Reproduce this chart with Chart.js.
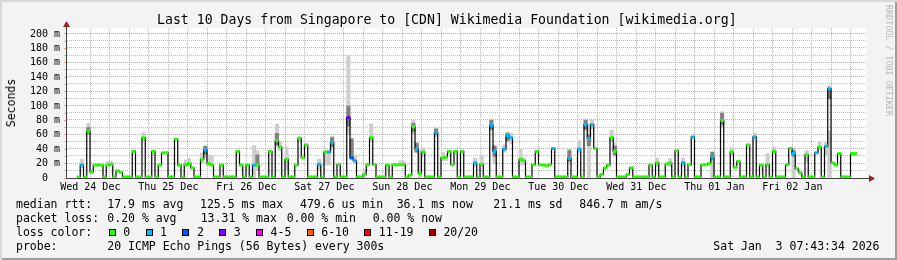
<!DOCTYPE html>
<html>
<head>
<meta charset="utf-8">
<script src="https://cdn.jsdelivr.net/npm/chart.js@4"></script>
<style>
  html, body { margin: 0; padding: 0; background: #fff; }
  #frame { position: relative; width: 897px; height: 260px; background: #f3f3f3; overflow: hidden;
           font-family: "DejaVu Sans Mono", monospace; color: #000; }
  #frame canvas { position: absolute; left: 0; top: 0; }
  #edge { position: absolute; left: 0; top: 0; width: 897px; height: 260px; pointer-events: none;
          box-shadow: inset 2px 2px 0 #d8d8d8, inset -2px -2px 0 #9c9c9c; }
  .t { position: absolute; white-space: pre; font-size: 11.5px; line-height: 14px; }
  #title { position: absolute; left: 157px; top: 11.5px; font-size: 13.2px; line-height: 16px; white-space: pre; }
  #ylab { position: absolute; left: 11px; top: 103px; font-size: 11.5px; line-height: 14px; white-space: pre;
          transform: translate(-50%, -50%) rotate(-90deg); }
  #brand { position: absolute; left: 884px; top: 5px; font-size: 8.4px; color: #b8b8b8; writing-mode: vertical-rl; white-space: pre; }
  #losses { position: absolute; left: 108.7px; top: 224.7px; white-space: pre; font-size: 11.5px; line-height: 14px; }
  #losses span.sw { display: inline-block; width: 5px; height: 5px; border: 1px solid #000; vertical-align: 0px; margin-right: 7.6px; }
  #losses span.lb { margin-right: 15.3px; }
</style>
</head>
<body>
<div id="frame">
  <canvas id="c" width="897" height="260"></canvas>
  <div id="title">Last 10 Days from Singapore to [CDN] Wikimedia Foundation [wikimedia.org]</div>
  <div id="ylab">Seconds</div>
  <div id="brand">RRDTOOL / TOBI OETIKER</div>

  <div class="t" style="left:16px;top:196.7px">median rtt:</div>
  <div class="t" style="left:107.3px;top:196.7px">17.9 ms avg</div>
  <div class="t" style="left:200px;top:196.7px">125.5 ms max</div>
  <div class="t" style="left:300px;top:196.7px">479.6 us min</div>
  <div class="t" style="left:396.7px;top:196.7px">36.1 ms now</div>
  <div class="t" style="left:493.3px;top:196.7px">21.1 ms sd</div>
  <div class="t" style="left:579.3px;top:196.7px">846.7 m am/s</div>

  <div class="t" style="left:16px;top:210.7px">packet loss:</div>
  <div class="t" style="left:107.3px;top:210.7px">0.20 % avg</div>
  <div class="t" style="left:200.7px;top:210.7px">13.31 % max</div>
  <div class="t" style="left:286.7px;top:210.7px">0.00 % min</div>
  <div class="t" style="left:372.7px;top:210.7px">0.00 % now</div>

  <div class="t" style="left:16px;top:224.7px">loss color:</div>
  <div id="losses"></div>

  <div class="t" style="left:16px;top:239px">probe:</div>
  <div class="t" style="left:107.3px;top:239px">20 ICMP Echo Pings (56 Bytes) every 300s</div>
  <div class="t" style="left:713.3px;top:239px">Sat Jan  3 07:43:34 2026</div>
  <div id="edge"></div>
</div>
<script>
// hours since Wed 24 Dec 00:00 at the left edge of the graph
const startHour = 7.9;

// hourly median rtt, ms
const median = [
  1.5, 18, 1.5, 65, 8, 18, 18, 18, 1.5, 18, 19, 1.5, 10, 8, 1.5, 1.5, 1.5, 37, 1.5, 1.5,
  56, 1.5, 1.5, 37, 1.5, 18, 35, 35, 1.5, 1.5, 54, 18, 1.5, 18.5, 20, 14, 1.5, 1.5, 26, 39,
  20, 18, 1.5, 1.5, 18, 1.5, 1.5, 1.5, 1.5, 37, 18, 1.5, 18, 1.5, 18, 18, 1.5, 1.5, 1.5, 37,
  1.5, 52, 43, 1.5, 26, 1.5, 1.5, 18, 55, 28, 46, 1.5, 1.5, 1.5, 19, 1.5, 36, 36, 49, 1.5,
  19, 1.5, 1.5, 84, 28, 24, 1.5, 1.5, 5, 18.5, 56, 18.5, 1.5, 1.5, 1.5, 18, 1.5, 18.5, 18.5, 18.5,
  18.5, 1.5, 4, 71, 40, 6.5, 36, 1.5, 1.5, 1.5, 63, 1.5, 28, 29, 37, 18.5, 37, 1.5, 37, 1.5,
  1.5, 1.5, 21, 1.5, 19, 1.5, 1.5, 73, 37, 1.5, 1.5, 40, 59, 56, 1.5, 1.5, 26, 24, 1.5, 1.5,
  18.5, 37, 18.5, 18, 17, 18.5, 41, 1.5, 1.5, 1.5, 1.5, 27, 1.5, 1.5, 40, 1.5, 74, 55, 74, 41,
  1.5, 5, 14, 18, 56, 37, 1.5, 1.5, 1.5, 5, 14, 1.5, 1.5, 1.5, 1.5, 1.5, 18, 1.5, 21, 1.5,
  1.5, 19.5, 21, 1.5, 38, 1.5, 21, 1.5, 18.5, 57, 1.5, 1.5, 18, 18.5, 20, 29, 1.5, 1.5, 80, 1.5,
  1.5, 36, 15, 23, 1.5, 1.5, 46, 1.5, 57, 1.5, 18, 1.5, 18.5, 1.5, 37, 1.5, 1.5, 1.5, 18.5, 41,
  34, 13, 7.4, 1.5, 32, 1.5, 1.5, 35, 43, 1.5, 44, 124, 21, 18, 34, 1.5, 1.5, 1.5, 34, 34
];

// hours with packet loss (1, 2 and 3 of 20)
const loss1 = [1, 39, 54, 74, 77, 78, 85, 104, 110, 122, 127, 128, 131, 132, 133, 146, 151, 154,
  156, 157, 158, 186, 189, 195, 208, 220, 227, 230, 231];
const loss2 = [84];
const loss3 = [83];

// smoke: [hour, low ms, high ms]
const smokeLight = [
  [1, 14, 26], [3, 60, 76], [9, 17, 23], [10, 17, 23], [20, 52, 63], [33, 16, 25], [34, 16, 27],
  [38, 20, 35], [39, 28, 45], [40, 17, 32], [41, 17, 30], [54, 0, 45], [55, 10, 38], [61, 44, 75],
  [62, 38, 50], [64, 12, 43], [68, 50, 58], [74, 12, 26], [76, 18, 38], [77, 18, 38], [78, 40, 58],
  [83, 60, 170], [84, 25, 56], [85, 20, 32], [88, 0, 12], [90, 50, 75], [99, 17, 24], [100, 17, 24],
  [103, 62, 80], [104, 35, 50], [105, 0, 38], [106, 30, 42], [110, 57, 70], [112, 24, 36],
  [113, 24, 32], [122, 16, 28], [124, 16, 32], [127, 66, 82], [128, 20, 46], [131, 36, 46],
  [132, 50, 64], [133, 48, 62], [136, 18, 40], [137, 18, 28], [151, 22, 40], [154, 35, 52],
  [156, 66, 82], [157, 0, 75], [158, 68, 80], [164, 50, 66], [165, 30, 48], [178, 16, 28],
  [182, 16, 27], [186, 16, 28], [195, 0, 36], [198, 70, 92], [201, 30, 42], [208, 54, 62],
  [212, 16, 34], [214, 34, 43], [220, 0, 42], [224, 22, 38], [228, 40, 50], [230, 32, 50],
  [231, 0, 65], [231, 115, 128]
];
const smokeDark = [
  [3, 62, 70], [39, 33, 44], [55, 18, 32], [61, 46, 62], [78, 44, 56], [83, 72, 100], [84, 30, 54],
  [103, 65, 76], [104, 36, 48], [110, 60, 68], [127, 68, 80], [128, 30, 44], [132, 52, 62],
  [151, 24, 38], [156, 68, 80], [157, 45, 60], [165, 32, 44], [195, 26, 36], [198, 74, 90],
  [220, 30, 38], [231, 110, 124]
];

const dayLabels = ['Wed 24 Dec', 'Thu 25 Dec', 'Fri 26 Dec', 'Sat 27 Dec', 'Sun 28 Dec',
  'Mon 29 Dec', 'Tue 30 Dec', 'Wed 31 Dec', 'Thu 01 Jan', 'Fri 02 Jan'];
const lossLabels = ['0', '1', '2', '3', '4-5', '6-10', '11-19', '20/20'];
const lossColors = ['#26ff00', '#00b8ff', '#0059ff', '#7e00ff', '#ff00ff', '#ff5e00', '#ff0000', '#a00000'];

// loss legend
const lossBox = document.getElementById('losses');
lossLabels.forEach((l, i) => {
  lossBox.insertAdjacentHTML('beforeend',
    '<span class="sw" style="background:' + lossColors[i] + '"></span><span class="lb">' + l + '</span>');
});

const pointColors = median.map((v, i) =>
  loss3.includes(i) ? lossColors[3] : loss2.includes(i) ? lossColors[2] : loss1.includes(i) ? lossColors[1] : lossColors[0]);

const lineData = median.map((v, i) => ({x: startHour + i, y: v}));
lineData.push({x: startHour + median.length, y: median[median.length - 1]});

const xGrid = [];
for (let h = 12; h < startHour + 240; h += 6) xGrid.push(h);
const yGrid = [];
for (let v = 10; v <= 200; v += 10) yGrid.push(v);

const red = '#ff9696', grey = '#bebebe';
const mono = {family: 'DejaVu Sans Mono', size: 10};

const frame = {
  id: 'frame',
  beforeDraw(chart) {
    const {ctx, chartArea: a} = chart;
    ctx.save();
    ctx.fillStyle = '#fff';
    ctx.fillRect(a.left, a.top, a.right - a.left, a.bottom - a.top);
    ctx.restore();
  },
  beforeDatasetsDraw(chart) {
    // dotted grid: red at midnight / every 20 m, grey in between
    const {ctx, chartArea: a, scales: {x, y}} = chart;
    ctx.save();
    ctx.lineWidth = 1;
    ctx.setLineDash([1, 1]);
    xGrid.forEach(h => {
      const px = Math.floor(x.getPixelForValue(h)) + 0.5;
      ctx.strokeStyle = h % 24 === 0 ? red : grey;
      ctx.beginPath();
      ctx.moveTo(px, a.top);
      ctx.lineTo(px, a.bottom);
      ctx.stroke();
    });
    yGrid.forEach(v => {
      const py = Math.round(y.getPixelForValue(v)) - 0.5;
      ctx.strokeStyle = v % 20 === 0 ? red : grey;
      ctx.beginPath();
      ctx.moveTo(a.left, py);
      ctx.lineTo(a.right, py);
      ctx.stroke();
    });
    ctx.restore();
  },
  afterDraw(chart) {
    const {ctx, chartArea: a} = chart;
    ctx.save();
    ctx.strokeStyle = '#404040';
    ctx.lineWidth = 1;
    ctx.beginPath();
    ctx.moveTo(a.left - 0.5, a.bottom + 0.5);
    ctx.lineTo(a.right + 3, a.bottom + 0.5);
    ctx.moveTo(a.left - 0.5, a.bottom + 0.5);
    ctx.lineTo(a.left - 0.5, a.top - 5);
    ctx.stroke();
    ctx.fillStyle = '#a02020';
    ctx.beginPath();
    ctx.moveTo(a.right + 2, a.bottom - 3);
    ctx.lineTo(a.right + 8, a.bottom + 0.5);
    ctx.lineTo(a.right + 2, a.bottom + 4);
    ctx.closePath();
    ctx.fill();
    ctx.beginPath();
    ctx.moveTo(a.left - 4, a.top - 1);
    ctx.lineTo(a.left - 0.5, a.top - 7);
    ctx.lineTo(a.left + 3, a.top - 1);
    ctx.closePath();
    ctx.fill();
    ctx.restore();
  }
};

new Chart(document.getElementById('c'), {
  type: 'line',
  data: {
    datasets: [
      {
        label: 'loss',
        data: median.map((v, i) => ({x: startHour + i + 0.5, y: v})),
        showLine: false,
        pointStyle: 'line',
        pointRadius: 1.8,
        pointBorderWidth: 3,
        pointBorderColor: pointColors,
        pointBackgroundColor: pointColors,
        order: 0
      },
      {
        label: 'median',
        data: lineData,
        stepped: true,
        borderColor: '#000',
        borderWidth: 1.2,
        pointRadius: 0,
        order: 1
      },
      {
        type: 'bar',
        label: 'smoke dark',
        data: smokeDark.map(([i, lo, hi]) => ({x: startHour + i + 0.5, y: [lo, hi]})),
        backgroundColor: '#808080',
        barThickness: 3.4,
        grouped: false,
        order: 2
      },
      {
        type: 'bar',
        label: 'smoke',
        data: smokeLight.map(([i, lo, hi]) => ({x: startHour + i + 0.5, y: [lo, hi]})),
        backgroundColor: '#cecece',
        barThickness: 3.4,
        grouped: false,
        order: 3
      }
    ]
  },
  options: {
    responsive: false,
    animation: false,
    events: [],
    layout: {padding: {top: 28, right: 30, left: 0, bottom: 0}},
    plugins: {legend: {display: false}, tooltip: {enabled: false}},
    scales: {
      x: {
        type: 'linear',
        min: startHour,
        max: startHour + 240,
        afterBuildTicks: ax => { ax.ticks = xGrid.map(v => ({value: v})); },
        afterFit: ax => { ax.height = 82; },
        ticks: {
          autoSkip: false, maxRotation: 0, minRotation: 0, padding: 3, font: mono, color: '#000',
          callback: v => (v % 24 === 12 ? dayLabels[(v - 12) / 24] : '')
        },
        grid: {drawOnChartArea: false, drawTicks: false},
        border: {display: false}
      },
      y: {
        min: 0,
        max: 208.3,
        afterBuildTicks: ax => { ax.ticks = [0].concat(yGrid).map(v => ({value: v})); },
        afterFit: ax => { ax.width = 67; },
        ticks: {
          autoSkip: false, padding: 4, font: mono, color: '#000',
          callback: v => (v % 20 === 0 ? (v === 0 ? '0  ' : v + ' m') : '')
        },
        grid: {drawOnChartArea: false, tickLength: 3, tickColor: c => (c.tick && c.tick.value % 20 === 0 ? red : grey)},
        border: {display: false}
      }
    }
  },
  plugins: [frame]
});
</script>
</body>
</html>
